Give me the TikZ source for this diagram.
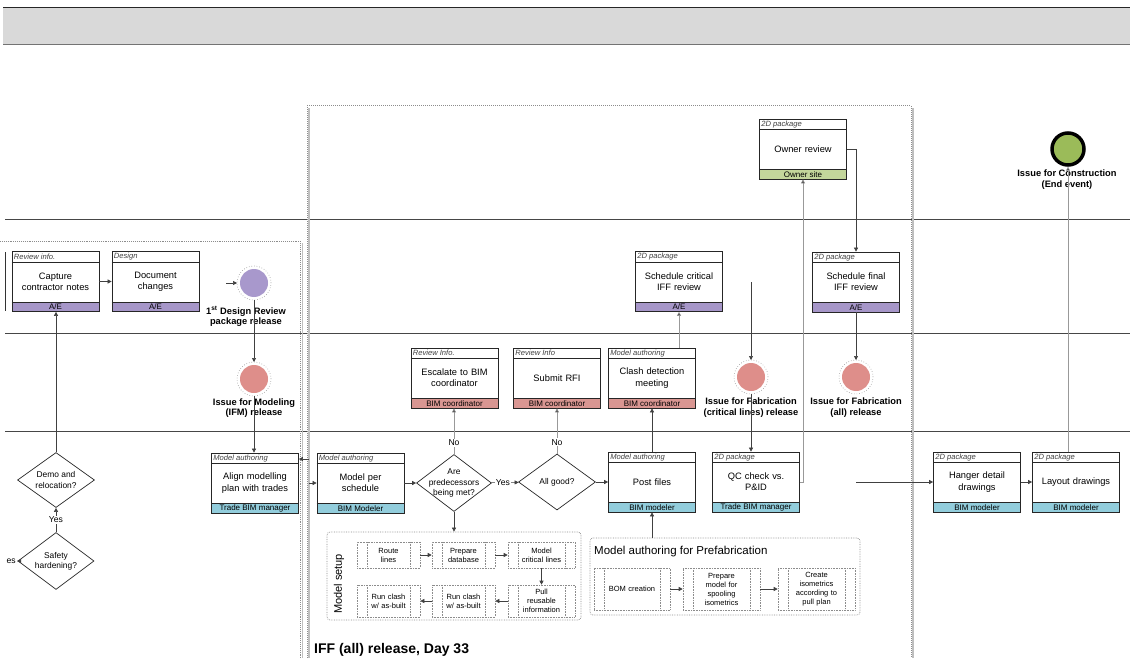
\documentclass[tikz,border=0pt]{standalone}
\usepackage{fontspec}
\setmainfont{Liberation Sans}
\usetikzlibrary{arrows.meta,shapes.geometric,calc}

\definecolor{rolepurple}{RGB}{166,150,200}
\definecolor{rolered}{RGB}{217,150,146}
\definecolor{roleteal}{RGB}{146,205,220}
\definecolor{rolegreen}{RGB}{195,214,155}
\definecolor{evpurple}{RGB}{168,152,204}
\definecolor{evred}{RGB}{222,142,138}
\definecolor{evgreen}{RGB}{155,187,89}
\definecolor{bandgray}{RGB}{217,217,217}
\definecolor{lanegray}{RGB}{70,70,70}
\definecolor{dotgray}{RGB}{140,140,140}

\newcommand{\fsz}[2]{\fontsize{#1}{#2}\selectfont}

% task box: name, centre, category, body text, role, role colour
\newcommand{\taskbox}[6]{%
  \node[task, rolefill=#6] (#1) at (#2) {#4};
  \draw[black!85, line width=0.5pt] ([yshift=-11pt]#1.north west) -- ([yshift=-11pt]#1.north east);
  \draw[black!85, line width=0.5pt] ([yshift=10pt]#1.south west) -- ([yshift=10pt]#1.south east);
  \node[hdr, anchor=west] (#1-hdr) at ([xshift=2pt,yshift=-5.5pt]#1.north west) {#3};
  \node[rolelbl] (#1-role) at ([yshift=5pt]#1.south) {#5};
}

\begin{document}
\begin{tikzpicture}[x=1pt,y=-1pt,
  task/.style={draw=black!85, line width=0.7pt, rectangle, minimum width=87pt,
    minimum height=60pt, inner sep=0pt, text width=82pt, align=center,
    font=\fsz{9.3}{11.3}},
  rolefill/.style={path picture={\fill[#1] ([yshift=10pt]path picture bounding box.south west)
    rectangle (path picture bounding box.south east);}},
  hdr/.style={font=\itshape\fsz{7.6}{9}, text=black!75, inner sep=0pt},
  rolelbl/.style={font=\fsz{8}{9}, inner sep=0pt},
  event/.style={circle, fill=#1, minimum size=28pt, inner sep=0pt, outer sep=3pt},
  endevent/.style={circle, fill=evgreen, draw=black, line width=3.5pt, minimum size=32pt, inner sep=0pt},
  evlbl/.style={align=center, font=\bfseries\fsz{9.3}{10.8}, inner sep=0pt},
  decision/.style={diamond, draw=black!85, line width=0.7pt, inner sep=0pt},
  dtext/.style={align=center, font=\fsz{8.4}{10.2}, inner sep=0pt},
  lbl/.style={font=\fsz{8.6}{10}, inner sep=1pt},
  conn/.style={draw=black!75, line width=0.6pt, -{Triangle[length=4pt,width=4pt]}},
  lconn/.style={draw=black!40, line width=0.6pt, -{Triangle[length=4pt,width=4pt,fill=black!75]}},
  sub/.style={draw=dotgray, densely dotted, line width=0.6pt, rectangle, minimum width=63pt,
    minimum height=26pt, inner sep=0pt, text width=44pt, align=center, font=\fsz{7.5}{9},
    path picture={
      \draw[dotgray, densely dotted, line width=0.6pt]
        ([xshift=10pt]path picture bounding box.north west) -- ([xshift=10pt]path picture bounding box.south west)
        ([xshift=-10pt]path picture bounding box.north east) -- ([xshift=-10pt]path picture bounding box.south east);}},
  grp/.style={draw=dotgray, densely dotted, line width=0.7pt, rounded corners=3pt, inner sep=0pt}
]
\useasboundingbox (0,0) rectangle (1130,658);

% title band
\fill[bandgray] (3,7) rectangle (1130,44);
\draw[black!85, line width=0.8pt] (3,7) -- (1130,7);
\draw[black!55, line width=1.6pt] (3,44.5) -- (1130,44.5);

% lane separators
\foreach \yy in {219,333,431} \draw[lanegray, line width=1pt] (5,\yy) -- (1130,\yy);

% left group frame
\draw[black!25, line width=1.4pt] (302.5,243) -- (302.5,658);
\draw[dotgray, densely dotted, line width=0.9pt] (0,241) -- (300,241) -- (300,658);
\draw[black!80, line width=0.7pt] (5,252) -- (5,311);

% IFF frame
\draw[black!25, line width=1.4pt] (913,108) -- (913,658);
\draw[black!25, line width=1.4pt] (309,108) -- (309,658);
\draw[dotgray, densely dotted, line width=1pt] (307,658) -- (307,106) -- (911,106) -- (911,658);
\node[anchor=base west, font=\bfseries\fsz{14}{16}, inner sep=0pt] (ifftitle) at (314,653) {IFF (all) release, Day 33};

% task boxes
\taskbox{capture}{55.5,281.5}{Review info.}{Capture\\contractor notes}{A/E}{rolepurple}
\taskbox{docchg}{155.5,281.5}{Design}{Document\\changes}{A/E}{rolepurple}
\taskbox{align}{255,483}{Model authoring}{Align modelling\\plan with trades}{Trade BIM manager}{roleteal}
\taskbox{owner}{803,149}{2D package}{Owner review}{Owner site}{rolegreen}
\taskbox{schedcrit}{679,281.5}{2D package}{Schedule critical\\IFF review}{A/E}{rolepurple}
\taskbox{schedfinal}{856,282}{2D package}{Schedule final\\IFF review}{A/E}{rolepurple}
\taskbox{escalate}{454.5,378}{Review Info.}{Escalate to BIM\\coordinator}{BIM coordinator}{rolered}
\taskbox{rfi}{557,378}{Review Info}{Submit RFI}{BIM coordinator}{rolered}
\taskbox{clash}{652,378}{Model authoring}{Clash detection\\meeting}{BIM coordinator}{rolered}
\taskbox{modsched}{360.5,483}{Model authoring}{Model per\\schedule}{BIM Modeler}{roleteal}
\taskbox{post}{652,482}{Model authoring}{Post files}{BIM modeler}{roleteal}
\taskbox{qc}{756,482}{2D package}{QC check vs.\\P\&ID}{Trade BIM manager}{roleteal}
\taskbox{hanger}{977,482}{2D package}{Hanger detail\\drawings}{BIM modeler}{roleteal}
\taskbox{layout}{1076,482}{2D package}{Layout drawings}{BIM modeler}{roleteal}

% events
\node[event=evpurple] (design) at (254,283) {};
\node[event=evred] (ifm) at (254,379) {};
\node[event=evred] (fabcrit) at (751,377) {};
\node[event=evred] (faball) at (856,377) {};
\foreach \e in {design,ifm,fabcrit,faball}
  \draw[dotgray, dotted, line width=0.6pt] (\e) circle (17pt);
\node[endevent] (endev) at (1068,149) {};

\node[evlbl] (designlbl) at (246,316.5) {1\textsuperscript{st} Design Review\\package release};
\node[evlbl] (ifmlbl) at (254,408) {Issue for Modeling\\(IFM) release};
\node[evlbl] (fabcritlbl) at (751,407.5) {Issue for Fabrication\\(critical lines) release};
\node[evlbl] (fabtouslbl) at (856,407.5) {Issue for Fabrication\\(all) release};
\node[evlbl] (endlbl) at (1067,179.5) {Issue for Construction\\(End event)};

% decisions
\node[decision, minimum width=77pt, minimum height=55pt,
  label={[dtext]center:{Demo and\\relocation?}}] (demo) at (56,480) {};
\node[decision, minimum width=76pt, minimum height=57pt,
  label={[dtext]center:{Safety\\hardening?}}] (safety) at (56,561) {};
\node[decision, minimum width=75pt, minimum height=57pt,
  label={[dtext]center:{Are\\predecessors\\being met?}}] (pred) at (454,483) {};
\node[decision, minimum width=77pt, minimum height=56pt,
  label={[dtext]center:{All good?}}] (allgood) at (557,482) {};

% sub-process groups
\node[grp, minimum width=254pt, minimum height=88pt] (setup) at (454,576) {};
\node[font=\fsz{11}{13}, rotate=90, inner sep=0pt] (setuplbl) at (339,584) {Model setup};
\node[sub] (route) at (388.5,555) {Route\\lines};
\node[sub] (prepdb) at (463.5,555) {Prepare\\database};
\node[sub, minimum width=67pt] (modcrit) at (541.5,555) {Model\\critical lines};
\node[sub, minimum width=67pt, minimum height=32pt] (pull) at (541.5,601) {Pull\\reusable\\information};
\node[sub, minimum height=32pt] (clashb) at (463.5,601) {Run clash\\w/ as-built};
\node[sub, minimum height=32pt] (clasha) at (388.5,601) {Run clash\\w/ as-built};

\node[grp, minimum width=270pt, minimum height=77pt] (prefab) at (725,576.5) {};
\node[anchor=west, font=\fsz{11.5}{13}, inner sep=0pt] (prefablbl) at (594,552) {Model authoring for Prefabrication};
\node[sub, minimum width=76pt, minimum height=42pt, text width=54pt] (bom) at (632,589) {BOM creation};
\node[sub, minimum width=77pt, minimum height=42pt, text width=54pt] (prepspool) at (721.5,589) {Prepare\\model for\\spooling\\isometrics};
\node[sub, minimum width=77pt, minimum height=42pt, text width=54pt] (createiso) at (816.5,589) {Create\\isometrics\\according to\\pull plan};

% connectors, left part
\draw[conn] (capture) -- (docchg);
\coordinate (intoDesign) at (226,283);
\draw[conn] (intoDesign) -- (design);
\draw[conn] (design) -- (ifm);
\draw[conn] (ifm) -- (ifm |- align.north);
\coordinate (alignIn) at (309,459);
\draw[conn] (alignIn) -- (alignIn -| align.east);
\draw[conn] (safety) -- (demo);
\node[lbl, fill=white] (yesdemo) at (56,520) {Yes};
\draw[conn] (demo) -- (demo |- capture.south);
\coordinate (esEnd) at (17,561);
\draw[conn] (safety.west) -- (esEnd);
\node[lbl, anchor=east, inner sep=0pt] (eslbl) at (16,561) {es};

% connectors, IFF part
\coordinate (modIn) at (309,483);
\draw[conn] (modIn) -- (modsched.west);
\draw[conn] (modsched) -- (pred);
\draw[conn] (pred) -- (allgood) node[lbl, fill=white, pos=0.42] (yespred) {Yes};
\draw[conn] (allgood) -- (post);
\draw[lconn] (pred.north) -- (pred.north |- escalate.south) node[lbl, fill=white, pos=0.25] (nopred) {No};
\draw[lconn] (allgood.north) -- (allgood.north |- rfi.south) node[lbl, fill=white, pos=0.25] (nogood) {No};
\draw[conn] (pred.south) -- (pred.south |- setup.north);
\draw[conn] (post) -- (clash);
\draw[lconn] (schedcrit.south |- clash.north) -- (schedcrit.south);
\draw[conn] (post.south |- prefab.north) -- (post.south);
\coordinate (fabFeed) at (751,282);
\draw[conn] (fabFeed) -- (fabcrit);
\draw[conn] (fabcrit) -- (fabcrit |- qc.north);
\draw[lconn] (qc.east) -| (owner.south);
\draw[conn] (owner.east) -| (schedfinal.north);
\draw[conn] (schedfinal) -- (faball);
\coordinate (hangerFeed) at (856,482);
\draw[conn] (hangerFeed) -- (hanger.west);
\draw[conn] (hanger) -- (layout);
\draw[lconn] (endev |- layout.north) -- (endev);

% connectors inside sub-process groups
\draw[conn] (route) -- (prepdb);
\draw[conn] (prepdb) -- (modcrit);
\draw[conn] (modcrit) -- (pull);
\draw[conn] (pull) -- (clashb);
\draw[conn] (clashb) -- (clasha);
\draw[conn] (bom) -- (prepspool);
\draw[conn] (prepspool) -- (createiso);
\end{tikzpicture}
\end{document}
